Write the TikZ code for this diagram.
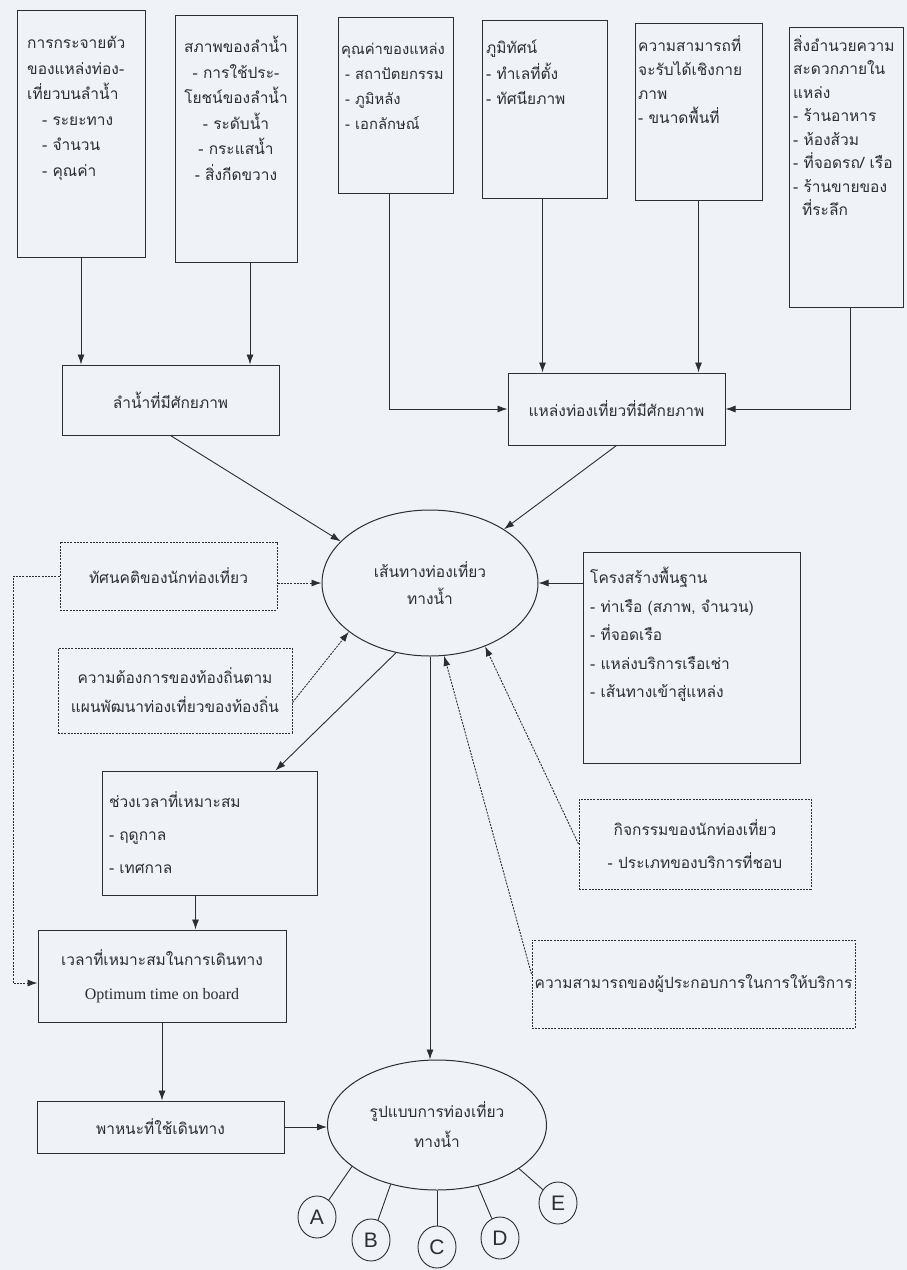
\documentclass[tikz,border=0pt]{standalone}
\usepackage{fontspec}
\setmainfont{Loma}[Script=Thai]
\newfontfamily\enfont{Liberation Serif}
\newfontfamily\letterfont{Liberation Sans}
\usetikzlibrary{arrows.meta,shapes.geometric}
\definecolor{paper}{RGB}{239,242,247}
\definecolor{ink}{RGB}{45,45,50}

\begin{document}
\begin{tikzpicture}[x=1pt, y=-1pt, >={Latex[length=10pt,width=7pt]},
    box/.style={draw=ink, line width=1pt, rectangle, inner sep=0pt, text=ink},
    dbox/.style={box, dash pattern=on 2pt off 1.2pt},
    txt/.style={inner sep=0pt, text=ink, font=\fontsize{15.5}{25.5}\selectfont},
    link/.style={draw=ink, line width=0.9pt, ->},
    dlink/.style={link, dash pattern=on 2pt off 1.2pt},
    letter/.style={ellipse, draw=ink, line width=0.9pt, minimum width=38pt, minimum height=42pt, inner sep=0pt, text=ink, font=\letterfont\fontsize{21}{21}\selectfont}]

    % Paper
    \fill[paper] (0,0) rectangle (907,1270);
    \useasboundingbox (0,0) rectangle (907,1270);

    \tikzset{every node/.append style={font=\fontsize{15.5}{25}\selectfont}}

    % Top row of factor boxes
    \node[box, minimum width=128pt, minimum height=247pt] (dist) at (81,133.5) {};
    \node[txt, align=left, anchor=north west] (disttxt) at (27,36)
        {การกระจายตัว\\ของแหล่งท่อง-\\เที่ยวบนลำน้ำ\\\hspace*{15pt}- ระยะทาง\\\hspace*{15pt}- จำนวน\\\hspace*{15pt}- คุณค่า};

    \node[box, minimum width=122pt, minimum height=247pt] (cond) at (236,138.5) {};
    \node[txt, align=center, anchor=north] (condtxt) at (236,36)
        {สภาพของลำน้ำ\\- การใช้ประ-\\โยชน์ของลำน้ำ\\- ระดับน้ำ\\- กระแสน้ำ\\- สิ่งกีดขวาง};

    \node[box, minimum width=115pt, minimum height=176pt] (value) at (395.5,105) {};
    \node[txt, align=left, anchor=north west, font=\fontsize{14.8}{25}\selectfont] (valuetxt) at (341,43)
        {คุณค่าของแหล่ง\\\hspace*{4pt}- สถาปัตยกรรม\\\hspace*{4pt}- ภูมิหลัง\\\hspace*{4pt}- เอกลักษณ์};

    \node[box, minimum width=125pt, minimum height=178pt] (scape) at (544.5,109) {};
    \node[txt, align=left, anchor=north west] (scapetxt) at (486,40)
        {ภูมิทัศน์\\- ทำเลที่ตั้ง\\- ทัศนียภาพ};

    \node[box, minimum width=127pt, minimum height=177pt] (carry) at (698.5,111.5) {};
    \node[txt, align=left, anchor=north west, font=\fontsize{15.5}{24}\selectfont] (carrytxt) at (638,35)
        {ความสามารถที่\\จะรับได้เชิงกาย\\ภาพ\\- ขนาดพื้นที่};

    \node[box, minimum width=114pt, minimum height=280pt] (amen) at (846,167) {};
    \node[txt, align=left, anchor=north west, font=\fontsize{15.5}{23.5}\selectfont] (amentxt) at (793,35)
        {สิ่งอำนวยความ\\สะดวกภายใน\\แหล่ง\\- ร้านอาหาร\\- ห้องส้วม\\- ที่จอดรถ/ เรือ\\- ร้านขายของ\\\hspace*{9pt}ที่ระลึก};

    % Potential river and potential sites
    \node[box, minimum width=217pt, minimum height=70pt] (lamnam) at (170.5,400) {ลำน้ำที่มีศักยภาพ};
    \node[box, minimum width=217pt, minimum height=72pt] (potsite) at (616.5,409) {แหล่งท่องเที่ยวที่มีศักยภาพ};

    % Water route
    \node[ellipse, draw=ink, line width=1pt, minimum width=216pt, minimum height=146pt, inner sep=0pt,
        align=center, text=ink, font=\fontsize{15.5}{27}\selectfont] (route) at (430,583) {เส้นทางท่องเที่ยว\\ทางน้ำ};

    % Side factors
    \node[dbox, minimum width=217pt, minimum height=68pt] (attitude) at (168.5,576) {ทัศนคติของนักท่องเที่ยว};
    \node[dbox, minimum width=234pt, minimum height=85pt, align=center, font=\fontsize{15.5}{29}\selectfont] (local) at (175,690.5)
        {ความต้องการของท้องถิ่นตาม\\แผนพัฒนาท่องเที่ยวของท้องถิ่น};
    \node[box, minimum width=217pt, minimum height=211pt] (infra) at (691.5,657.5) {};
    \node[txt, align=left, anchor=north west, font=\fontsize{15.5}{28.5}\selectfont] (infratxt) at (590,567)
        {โครงสร้างพื้นฐาน\\- ท่าเรือ (สภาพ, จำนวน)\\- ที่จอดเรือ\\- แหล่งบริการเรือเช่า\\- เส้นทางเข้าสู่แหล่ง};
    \node[box, minimum width=215pt, minimum height=124pt, text width=201pt, align=left, inner xsep=7pt,
        font=\fontsize{15.5}{33}\selectfont] (season) at (209.5,833) {ช่วงเวลาที่เหมาะสม\\- ฤดูกาล\\- เทศกาล};
    \node[dbox, minimum width=232pt, minimum height=90pt, align=center, font=\fontsize{15.5}{33}\selectfont] (activity) at (695,844)
        {กิจกรรมของนักท่องเที่ยว\\- ประเภทของบริการที่ชอบ};
    \node[box, minimum width=248pt, minimum height=92pt, align=center, font=\fontsize{15.5}{34}\selectfont] (optime) at (162,976)
        {เวลาที่เหมาะสมในการเดินทาง\\{\enfont\fontsize{16}{34}\selectfont Optimum time on board}};
    \node[dbox, minimum width=323pt, minimum height=88pt] (capacity) at (693.5,984) {ความสามารถของผู้ประกอบการในการให้บริการ};
    \node[box, minimum width=247pt, minimum height=52pt] (vehicle) at (160.5,1127) {พาหนะที่ใช้เดินทาง};

    % Tour forms
    \node[ellipse, draw=ink, line width=1pt, minimum width=219pt, minimum height=130pt, inner sep=0pt,
        align=center, text=ink, font=\fontsize{15.5}{30}\selectfont] (form) at (437,1125) {รูปแบบการท่องเที่ยว\\ทางน้ำ};
    \node[letter] (ca) at (317,1217) {A};
    \node[letter] (cb) at (371,1240) {B};
    \node[letter] (cc) at (437,1247) {C};
    \node[letter] (cd) at (500,1238) {D};
    \node[letter] (ce) at (558,1203) {E};

    % Arrows from the top boxes
    \draw[link] (dist.south) -- (dist.south |- lamnam.north);
    \draw[link] ([xshift=14pt]cond.south) -- ([xshift=14pt]cond.south |- lamnam.north);
    \draw[link] ([xshift=-6pt]value.south) |- (potsite.west);
    \draw[link] ([xshift=-2pt]scape.south) -- ([xshift=-2pt]scape.south |- potsite.north);
    \draw[link] (carry.south) -- (carry.south |- potsite.north);
    \draw[link] ([xshift=4pt]amen.south) |- (potsite.east);

    % Into the water route
    \draw[link] (lamnam.south) -- (route.155);
    \draw[link] (potsite.south) -- (route.36);
    \draw[dlink] (attitude.east |- route.west) -- (route.west);
    \draw[dlink] ([yshift=-12pt]local.east) -- (route.211);
    \draw[link] (infra.west |- route.east) -- (route.east);
    \draw[dlink] (activity.west) -- (route.-49);
    \draw[dlink] ([yshift=10pt]capacity.west) -- (route.-79);

    % Timing chain
    \draw[link] (route.244) -- ([xshift=66pt]season.north);
    \draw[link] ([xshift=-14pt]season.south) -- ([xshift=-14pt]season.south |- optime.north);
    \coordinate (loop) at (13,576);
    \draw[dlink] (attitude.west) -- (loop) |- ([yshift=-7pt]optime.west);
    \draw[link] (optime.south) -- (optime.south |- vehicle.north);
    \draw[link] (vehicle.east) -- (vehicle.east -| form.west);
    \draw[link] (route.south) -- (route.south |- form.north);

    % Branches to the forms
    \draw[ink, line width=0.9pt] (form.206) -- (ca);
    \draw[ink, line width=0.9pt] (form.232) -- (cb);
    \draw[ink, line width=0.9pt] (form.270) -- (cc);
    \draw[ink, line width=0.9pt] (form.304) -- (cd);
    \draw[ink, line width=0.9pt] (form.332) -- (ce);

\end{tikzpicture}
\end{document}
